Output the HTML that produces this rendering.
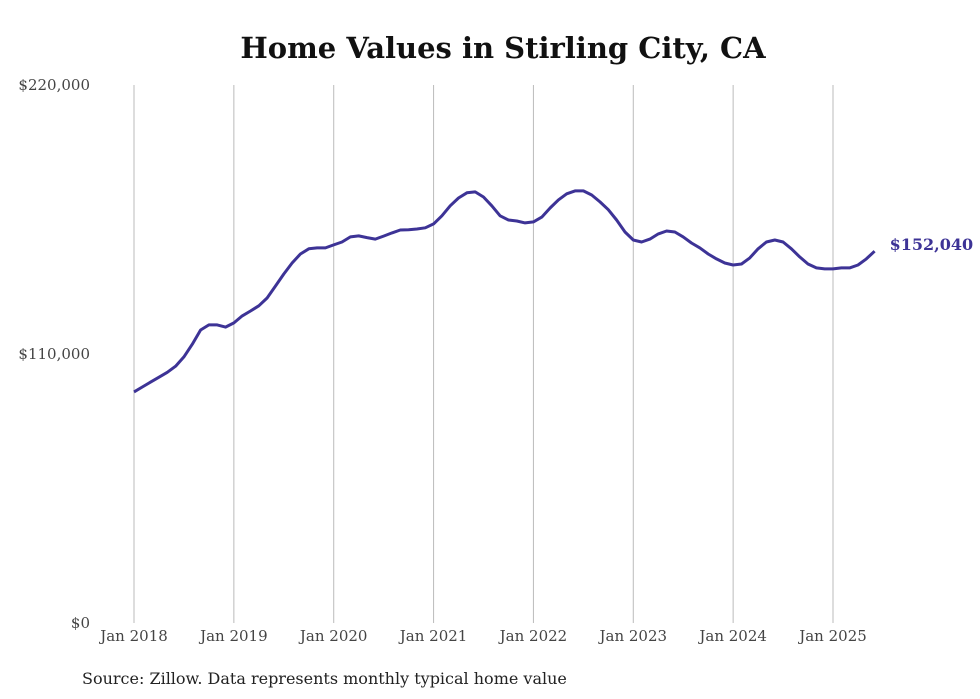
<!DOCTYPE html>
<html><head><meta charset="utf-8"><style>
body{margin:0;background:#fff;width:980px;height:699px;overflow:hidden}
svg{display:block}
text{font-family:"DejaVu Serif","Liberation Serif",serif}
</style></head><body>
<svg id="chart" width="980" height="699">
<text x="503" y="58" text-anchor="middle" font-size="29" font-weight="bold" fill="#111">Home Values in Stirling City, CA</text>
<g id="grid"></g><g id="yt"></g><g id="xt"></g><g id="series"></g>
<text x="82" y="684" font-size="16" fill="#222">Source: Zillow. Data represents monthly typical home value</text>
</svg>
<script>
const yTicks=[0,110000,220000];
const yTickLabels=["$0","$110,000","$220,000"];
const xYears=[2018,2019,2020,2021,2022,2023,2024,2025];
const xTickLabels=["Jan 2018","Jan 2019","Jan 2020","Jan 2021","Jan 2022","Jan 2023","Jan 2024","Jan 2025"];
const values=[94.5,96.5,98.5,100.5,102.5,105,108.8,114,119.8,121.9,121.9,121,
122.7,125.6,127.6,129.7,132.9,137.8,142.7,147.2,150.9,153,153.4,153.4,
154.6,155.8,157.9,158.3,157.6,157,158.2,159.5,160.7,160.8,161.1,161.6,
163.2,166.5,170.6,173.8,175.9,176.3,174.2,170.6,166.5,164.8,164.4,163.6,
164,166,169.7,173,175.5,176.7,176.7,175,172.2,169,164.8,159.9,
156.6,155.8,157,159.1,160.3,159.9,157.9,155.4,153.4,150.9,148.9,147.2,
146.4,146.8,149.3,153,155.8,156.6,155.8,153,149.7,146.8,145.2,144.8,
144.8,145.2,145.2,146.4,148.9,152.04].map(v=>v*1000);
const lastLabel="$152,040";
const NS="http://www.w3.org/2000/svg";
const yS=v=>623-v/220000*538;
const xS=m=>134+m*(699/84);
function mk(t,a,p){const e=document.createElementNS(NS,t);for(const k in a)e.setAttribute(k,a[k]);document.getElementById(p).appendChild(e);return e;}
xYears.forEach((y,i)=>{const x=xS((y-2018)*12);
const l=mk('line',{x1:x,x2:x,y1:85,y2:623,stroke:'#bbb','stroke-width':1},'grid');


const t=mk('text',{x:x,y:641,'text-anchor':'middle','font-size':15,fill:'#444'},'xt');t.textContent=xTickLabels[i];

});
yTicks.forEach((v,i)=>{const t=mk('text',{x:90,y:yS(v)+5,'text-anchor':'end','font-size':15,fill:'#444'},'yt');t.textContent=yTickLabels[i];

});
const d=values.map((v,i)=>(i?'L':'M')+xS(i).toFixed(1)+','+yS(v).toFixed(1)).join('');
const p=mk('path',{d:d,fill:'none',stroke:'#3d3396','stroke-width':3,'stroke-linejoin':'round'},'series');


const n=values.length-1;
const lt=mk('text',{x:xS(n)+15,y:yS(values[n])-1,'font-size':16,'font-weight':'bold',fill:'#3d3396'},'series');lt.textContent=lastLabel;


</script>
</body></html>
